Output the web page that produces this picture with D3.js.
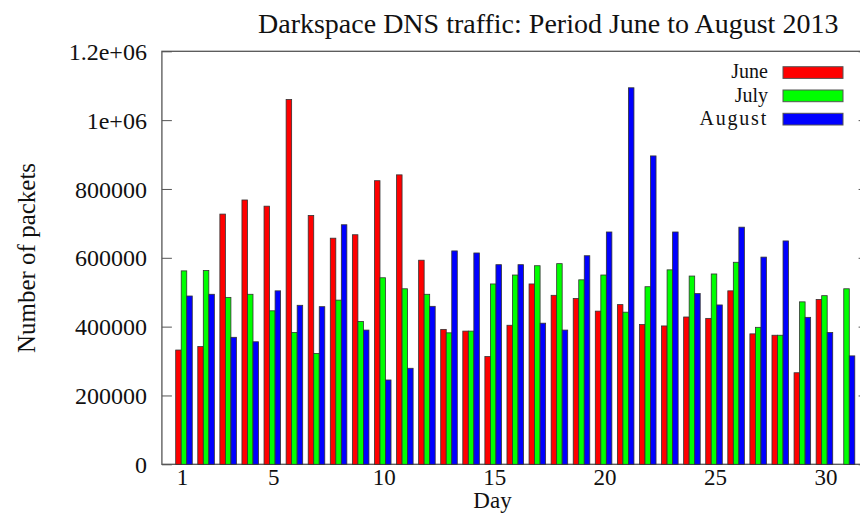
<!DOCTYPE html>
<html lang="en">

<head>
    <meta charset="UTF-8">
    <title>darkspace dns traffic</title>
    <script src="https://cdn.jsdelivr.net/npm/d3@7"></script>
    <style>
        body {
            margin: 0;
            background: #fff;
        }

        svg text {
            font-family: "Liberation Serif", "DejaVu Serif", serif;
            fill: #111;
        }

        .frame {
            fill: none;
            stroke: #555;
            stroke-width: 1.3;
        }
    </style>
</head>

<body>
    <svg id="main" width="860" height="514"></svg>

    <script>
        // days of the month, one cluster per day
        let days = d3.range(1, 32)
        // packets per day
        let june = [332000, 342000, 727000, 768000, 750000, 1060000, 723000, 657000, 667000, 824000,
            841000, 593000, 392000, 387000, 313000, 404000, 524000, 491000, 482000, 445000,
            464000, 406000, 402000, 428000, 424000, 504000, 379000, 375000, 266000, 479000, null]
        let july = [562000, 563000, 485000, 494000, 446000, 383000, 322000, 477000, 415000, 542000,
            510000, 494000, 382000, 387000, 524000, 550000, 577000, 583000, 536000, 550000,
            442000, 516000, 565000, 547000, 553000, 587000, 398000, 375000, 472000, 490000, 510000]
        let august = [489000, 494000, 369000, 356000, 504000, 462000, 458000, 696000, 390000, 245000,
            279000, 459000, 620000, 614000, 580000, 580000, 410000, 390000, 606000, 675000,
            1094000, 896000, 675000, 496000, 463000, 689000, 602000, 649000, 427000, 383000, 315000]
        let months = ["June", "July", "August"]
        let colors = ["#ff0000", "#00ff00", "#0000ff"]
        let yTicks = [0, 200000, 400000, 600000, 800000, 1000000, 1200000]
        let xTickDays = [1, 5, 10, 15, 20, 25, 30]

        let svg = d3.select("#main")
        let pLeft = 161.9, pRight = 868.6, pTop = 51.3, pBottom = 464.3

        // gnuplot style: cluster i sits at x = i, range [-1, 31]
        let x = d3.scaleLinear().domain([-1, 31]).range([pLeft, pRight])
        let y = d3.scaleLinear().domain([0, 1200000]).range([pBottom, pTop])
        let bw = (x(1) - x(0)) / 4

        function fmt(v) {
            if (v === 1000000) return "1e+06"
            if (v === 1200000) return "1.2e+06"
            return String(v)
        }

        // frame
        svg.append("rect")
            .attr("class", "frame")
            .attr("x", pLeft)
            .attr("y", pTop)
            .attr("width", pRight - pLeft)
            .attr("height", pBottom - pTop)

        // left axis, ticks inward
        let ya = svg.append("g")
            .attr("transform", `translate(${pLeft},0)`)
            .call(d3.axisLeft(y).tickValues(yTicks).tickFormat(fmt).tickSize(-10).tickPadding(15))
        ya.select(".domain").remove()
        ya.selectAll("line").attr("stroke", "#555")
        ya.selectAll("text")
            .style("font-size", "24px")
            .attr("dy", "0.34em")

        // mirrored ticks on the right
        let yr = svg.append("g")
            .attr("transform", `translate(${pRight},0)`)
            .call(d3.axisRight(y).tickValues(yTicks).tickFormat("").tickSize(-10))
        yr.select(".domain").remove()
        yr.selectAll("line").attr("stroke", "#555")

        // bottom labels
        let xa = svg.append("g")
            .attr("transform", `translate(0,${pBottom})`)
            .call(d3.axisBottom(x).tickValues(xTickDays.map(d => d - 1))
                .tickFormat(d => d + 1).tickSize(0).tickPadding(0))
        xa.select(".domain").remove()
        xa.selectAll("text")
            .style("font-size", "23px")
            .attr("dy", null)
            .attr("y", 20.5)
            .attr("dx", (d, i) => i === 0 ? "-2" : "1")

        // bars
        let series = [june, july, august]
        series.forEach(function (vals, j) {
            svg.append("g")
                .selectAll("rect")
                .data(days.filter((d, i) => vals[i] != null))
                .join("rect")
                .attr("x", d => x(d - 1) - 1.5 * bw + j * bw)
                .attr("y", d => y(vals[d - 1]))
                .attr("width", bw)
                .attr("height", d => y(0) - y(vals[d - 1]))
                .attr("fill", colors[j])
                .attr("stroke", "#333")
                .attr("stroke-width", 0.8)
        })

        // legend
        let lg = svg.append("g")
        months.forEach(function (m, j) {
            let yy = 66.7 + j * 23.3
            lg.append("rect")
                .attr("x", 783)
                .attr("y", yy)
                .attr("width", 60)
                .attr("height", 11.7)
                .attr("fill", colors[j])
                .attr("stroke", "#555")
                .attr("stroke-width", 1)
            lg.append("text")
                .attr("x", 768)
                .attr("y", yy + 11.7)
                .attr("text-anchor", "end")
                .style("font-size", "20px")
                .style("letter-spacing", m === "August" ? "1.8px" : "0px")
                .text(m)
        })

        // titles
        svg.append("text")
            .attr("x", 258)
            .attr("y", 33)
            .style("font-size", "28px")
            .text("Darkspace DNS traffic: Period June to August 2013")

        svg.append("text")
            .attr("x", 492.5)
            .attr("y", 508)
            .attr("text-anchor", "middle")
            .style("font-size", "23px")
            .text("Day")

        svg.append("text")
            .attr("transform", "translate(35,258) rotate(-90)")
            .attr("text-anchor", "middle")
            .style("font-size", "25px")
            .text("Number of packets")
    </script>
</body>

</html>
